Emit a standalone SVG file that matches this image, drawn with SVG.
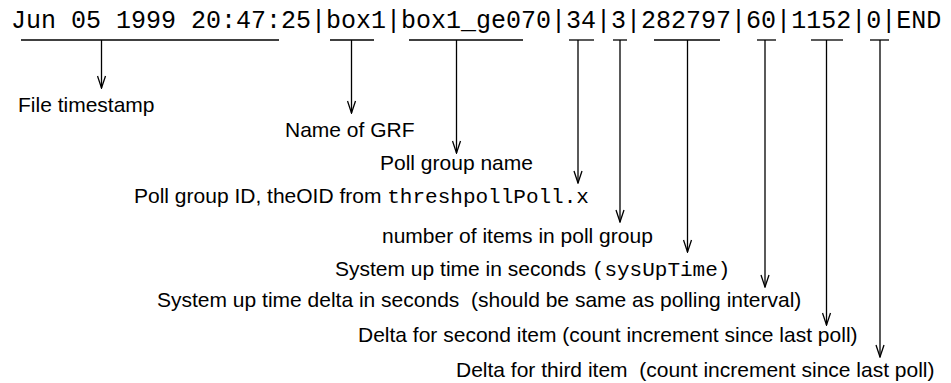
<svg xmlns="http://www.w3.org/2000/svg" width="951" height="383" viewBox="0 0 951 383">
<style>
.rec{font-family:"Liberation Mono","Courier New",monospace;font-size:25px;fill:#000}
.lbl{font-family:"Liberation Sans",Arial,Helvetica,sans-serif;font-size:21px;fill:#000}
.mono{font-family:"Liberation Mono","Courier New",monospace;font-size:21px}
.ul{stroke:#000;stroke-width:1.3;fill:none}
.ar{stroke:#000;stroke-width:1.3;fill:none;marker-end:url(#arr)}
</style>
<defs>
<marker id="arr" markerUnits="userSpaceOnUse" viewBox="-13 -5 14 10" refX="0" refY="0" markerWidth="14" markerHeight="10" orient="auto">
<path d="M-12,-4 L0,0 L-12,4" fill="none" stroke="#000" stroke-width="1.3"/>
</marker>
</defs>
<rect width="951" height="383" fill="#fff"/>
<g id="record"><text class="rec" x="11" y="28">Jun 05 1999 20:47:25|box1|box1_ge070|34|3|282797|60|1152|0|END</text></g>
<g id="connectors">
<line class="ul" x1="21" y1="40" x2="279" y2="40"/>
<line class="ul" x1="330" y1="40" x2="374" y2="40"/>
<line class="ul" x1="409" y1="40" x2="523" y2="40"/>
<line class="ul" x1="569" y1="40" x2="594" y2="40"/>
<line class="ul" x1="613" y1="40" x2="627" y2="40"/>
<line class="ul" x1="654" y1="40" x2="720" y2="40"/>
<line class="ul" x1="757" y1="40" x2="776" y2="40"/>
<line class="ul" x1="811" y1="40" x2="843" y2="40"/>
<line class="ul" x1="870" y1="40" x2="889" y2="40"/>
<line class="ar" x1="101.5" y1="40" x2="101.5" y2="88"/>
<line class="ar" x1="351.5" y1="40" x2="351.5" y2="113"/>
<line class="ar" x1="456.5" y1="40" x2="456.5" y2="153"/>
<line class="ar" x1="578" y1="40" x2="578" y2="183"/>
<line class="ar" x1="620" y1="40" x2="620" y2="222"/>
<line class="ar" x1="687.5" y1="40" x2="687.5" y2="252"/>
<line class="ar" x1="765" y1="40" x2="765" y2="287"/>
<line class="ar" x1="826.5" y1="40" x2="826.5" y2="325"/>
<line class="ar" x1="880" y1="40" x2="880" y2="357"/>
</g>
<g id="n1"><text class="lbl" x="18" y="112">File timestamp</text></g>
<g id="n2"><text class="lbl" x="285" y="137">Name of GRF</text></g>
<g id="n3"><text class="lbl" x="380" y="170">Poll group name</text></g>
<g id="n4"><text class="lbl" x="134" y="203">Poll group ID, theOID from <tspan class="mono">threshpollPoll.x</tspan></text></g>
<g id="n5"><text class="lbl" x="382" y="243">number of items in poll group</text></g>
<g id="n6"><text class="lbl" x="335" y="276">System up time in seconds <tspan class="mono">(sysUpTime)</tspan></text></g>
<g id="n7"><text class="lbl" x="157" y="307" xml:space="preserve">System up time delta in seconds  (should be same as polling interval)</text></g>
<g id="n8"><text class="lbl" x="358" y="342">Delta for second item (count increment since last poll)</text></g>
<g id="n9"><text class="lbl" x="456" y="377" xml:space="preserve">Delta for third item  (count increment since last poll)</text></g>
</svg>
